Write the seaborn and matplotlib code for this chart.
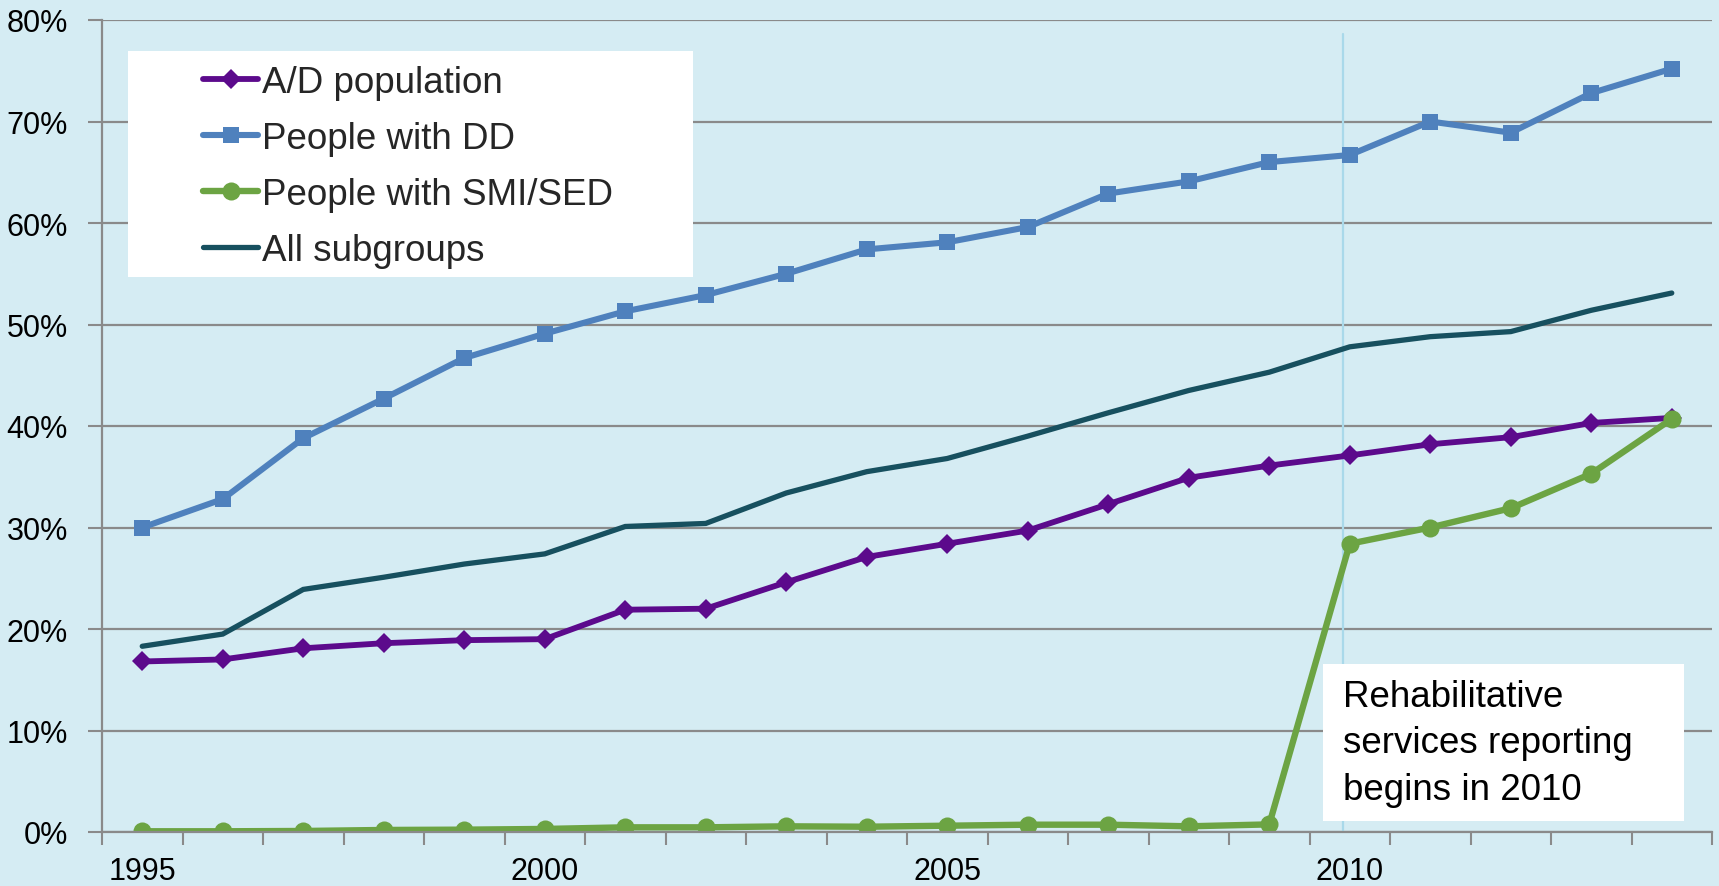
import matplotlib
matplotlib.use("Agg")
import matplotlib.pyplot as plt
from matplotlib.patches import Rectangle
from matplotlib.ticker import FixedLocator, FuncFormatter
import seaborn as sns
import pandas as pd

# ---- data (percent of spending on home and community based services) ----
years = list(range(1995, 2015))
ad_population = [16.8, 17.0, 18.1, 18.6, 18.9, 19.0, 21.9, 22.0, 24.6, 27.1,
                 28.4, 29.7, 32.3, 34.9, 36.1, 37.1, 38.2, 38.9, 40.3, 40.8]
people_dd = [30.0, 32.8, 38.8, 42.7, 46.7, 49.1, 51.3, 52.9, 55.0, 57.4,
             58.1, 59.6, 62.9, 64.1, 66.0, 66.7, 70.0, 68.9, 72.8, 75.2]
people_smi_sed = [0.07, 0.07, 0.1, 0.2, 0.23, 0.3, 0.46, 0.46, 0.56, 0.52,
                  0.62, 0.72, 0.72, 0.56, 0.75, 28.4, 30.0, 31.9, 35.3, 40.7]
all_subgroups = [18.3, 19.5, 23.9, 25.1, 26.4, 27.4, 30.1, 30.4, 33.4, 35.5,
                 36.8, 39.0, 41.3, 43.5, 45.3, 47.8, 48.8, 49.3, 51.4, 53.1]

series_names = ["A/D population", "People with DD", "People with SMI/SED", "All subgroups"]
year_labels = [1995, 2000, 2005, 2010]
y_ticks = [0, 10, 20, 30, 40, 50, 60, 70, 80]
note_text = "Rehabilitative\nservices reporting\nbegins in 2010"
reporting_start = 2009.92

# ---- styling ----
BG = "#d5ecf3"
GRID = "#8a8a8a"
colors = ["#5c0a8c", "#4f81bd", "#6ca443", "#17505f"]
markers = ["D", "s", "o", None]
msizes = [10.5, 11.5, 13, 0]
lwidths = [4.2, 4.4, 4.6, 3.8]

sns.set_theme(style="white")
plt.rcParams["font.family"] = ["Liberation Sans", "DejaVu Sans"]

W, H = 1719, 887
fig = plt.figure(figsize=(W / 100, H / 100), dpi=100, facecolor=BG)
ax = fig.add_axes([102 / W, 1 - 833 / H, (1712 - 102) / W, (833 - 21) / H])
ax.set_facecolor(BG)

frame = pd.DataFrame({"year": years})
for name, vals in zip(series_names, [ad_population, people_dd, people_smi_sed, all_subgroups]):
    frame[name] = vals

for name, c, m, ms, lw in zip(series_names, colors, markers, msizes, lwidths):
    kw = dict(marker=m, markersize=ms, markeredgewidth=0) if m else {}
    sns.lineplot(data=frame, x="year", y=name, ax=ax, color=c, linewidth=lw,
                 label=name, solid_joinstyle="miter", **kw)

# reporting-start marker line
ax.axvline(reporting_start, ymin=0, ymax=78.6 / 80, color="#a9d9ea", lw=1.6, zorder=1.5)

# axes limits and ticks
ax.set_xlim(1994.5, 2014.5)
ax.set_ylim(0, 80)
ax.xaxis.set_major_locator(FixedLocator(year_labels))
ax.xaxis.set_minor_locator(FixedLocator([y - 0.5 for y in years] + [2014.5]))
ax.yaxis.set_major_locator(FixedLocator(y_ticks))
ax.yaxis.set_major_formatter(FuncFormatter(lambda v, p: f"{v:.0f}%"))
ax.set_xlabel("")
ax.set_ylabel("")

ax.tick_params(axis="x", which="major", length=0, pad=17, labelsize=22, labelcolor="black")
ax.tick_params(axis="x", which="minor", length=9, width=1.5, color=GRID, direction="out", bottom=True)
ax.tick_params(axis="y", which="major", length=10, width=1.5, color=GRID, direction="out",
               left=True, pad=14.5, labelsize=22, labelcolor="black")

ax.yaxis.grid(True, color=GRID, linewidth=1.6)
ax.xaxis.grid(False)
ax.set_axisbelow(True)
for side in ["top", "right"]:
    ax.spines[side].set_visible(False)
for side in ["left", "bottom"]:
    ax.spines[side].set_color(GRID)
    ax.spines[side].set_linewidth(1.6)

# legend on a white panel
ax.add_patch(Rectangle((128 / W, 1 - 278 / H), 565 / W, 226 / H, transform=fig.transFigure,
                       facecolor="white", edgecolor="none", zorder=4, clip_on=False))
handles, labels = ax.get_legend_handles_labels()
leg = ax.legend(handles, labels, loc="upper left", bbox_to_anchor=(203 / W, 1 - 66 / H),
                bbox_transform=fig.transFigure, frameon=False, fontsize=26.5,
                handlelength=1.5, handletextpad=0.1, labelspacing=0.57, borderpad=0,
                borderaxespad=0, numpoints=1)
leg.set_zorder(5)

# note panel
ax.add_patch(Rectangle((1323 / W, 1 - 822 / H), 361 / W, 157 / H, transform=fig.transFigure,
                       facecolor="white", edgecolor="none", zorder=4, clip_on=False))
ax.text(1343 / W, 1 - 680 / H, note_text, transform=fig.transFigure, fontsize=26.5,
        va="top", ha="left", linespacing=1.42, color="black", zorder=6)

fig.savefig("out.png", dpi=100, facecolor=BG)
